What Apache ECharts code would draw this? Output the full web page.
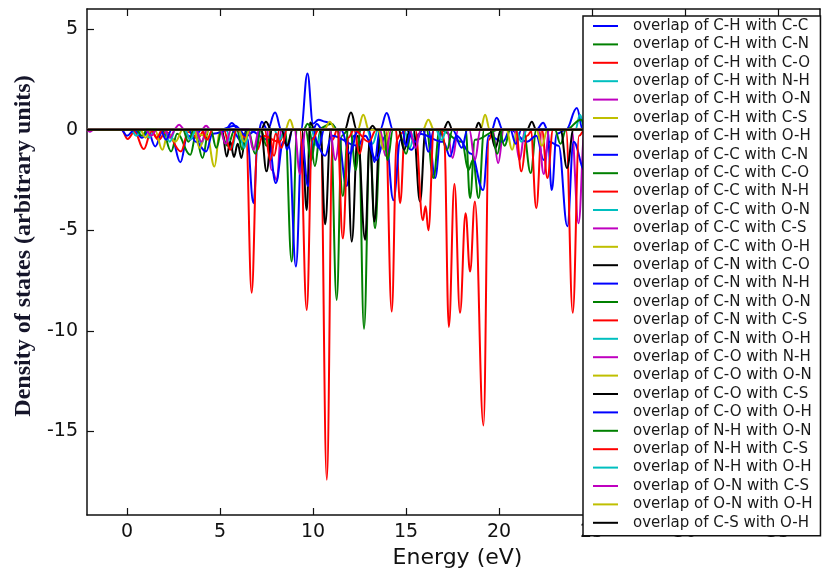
<!DOCTYPE html>
<html>
<head>
<meta charset="utf-8">
<script src="https://cdn.jsdelivr.net/npm/echarts@6/dist/echarts.min.js"></script>
<style>
  html, body { margin: 0; padding: 0; background: #ffffff; }
  #chart { width: 822px; height: 574px; }
</style>
</head>
<body>
<div id="chart"></div>
<script>
// Overlap (COOP-style) density of states, energy in eV vs. arbitrary units.
// Each curve is a list of [energy, value] samples.

const energyTicks = [0, 5, 10, 15, 20, 25, 30, 35];
const dosTicks = [-15, -10, -5, 0, 5];

const chCC = [[-2.15,0],[1.1,0],[1.52,-0.83],[1.9,-0.1],[2.4,-0.4],[2.87,-1.62],[3.25,-0.3],[3.62,-0.4],[4.0,0],[5.3,0],[5.63,0.33],[6.0,0],[6.45,-0.4],[6.8,-3.65],[7.05,-0.2],[7.24,0.4],[7.55,0],[7.96,0.85],[8.3,0],[9.35,0],[9.7,2.8],[10.0,0.3],[10.3,0.5],[10.65,0.4],[11.0,0.3],[11.3,0],[11.8,-2.8],[12.2,-0.3],[12.5,0],[13.6,0],[13.96,0.83],[14.3,0],[16.2,0],[16.56,-2.4],[16.9,0],[19.6,0],[19.87,0.6],[20.2,0],[22.0,0],[22.37,0.35],[22.6,0],[22.83,-3.0],[23.1,-0.2],[23.6,0],[24.18,1.08],[24.5,0],[37.25,0]];
const chCN = [[-2.15,0],[1.9,0],[2.37,-1.08],[2.7,-0.2],[3.4,-1.25],[3.7,-0.3],[4.06,-1.4],[4.4,0],[5.0,0],[5.4,-0.8],[5.8,0],[8.5,0],[8.85,-6.55],[9.15,0],[9.8,0],[10.1,-1.8],[10.4,0],[10.95,0],[11.27,-8.46],[11.55,-0.3],[11.9,0],[12.45,0],[12.74,-9.9],[13.05,-0.5],[13.33,-4.9],[13.65,0],[16.1,0],[16.47,-2.4],[16.8,0],[18.0,-0.6],[18.35,-2.0],[18.6,-1.5],[18.9,-3.4],[19.2,0],[21.3,0],[21.7,-2.15],[22.0,0],[37.25,0]];
const chCO = [[-2.15,0],[-0.3,0],[0.04,-0.46],[0.4,-0.1],[0.9,-0.96],[1.3,-0.1],[1.7,-0.5],[2.1,-0.1],[2.9,-1.08],[3.3,-0.1],[3.8,-0.4],[4.2,0],[7.6,0],[7.9,-1.3],[8.2,0],[10.4,0],[10.74,-17.4],[11.05,-0.5],[11.3,0],[14.45,0],[14.68,-3.65],[14.95,0],[21.7,0],[22.0,-3.9],[22.3,0],[37.25,0]];
const chNH = [[-2.15,0],[0.9,0],[1.2,-0.4],[1.5,0],[3.7,0],[4.0,-0.7],[4.3,0],[5.35,0],[5.63,-1.0],[5.9,0],[9.9,0],[10.2,-0.8],[10.5,0],[14.9,0],[15.2,-0.9],[15.5,0],[24.1,0],[24.35,0.75],[24.6,0],[37.25,0]];
const chON = [[-2.15,0],[-2.0,-0.1],[-1.8,0],[2.5,0],[2.8,0.25],[3.1,0],[3.4,-0.5],[3.7,0],[7.5,0],[7.78,-2.0],[8.05,-2.5],[8.3,0],[17.2,0],[17.5,-1.4],[17.8,0],[19.65,0],[19.95,-1.65],[20.25,0],[23.9,0],[24.27,-4.65],[24.6,0],[37.25,0]];
const chCS = [[-2.15,0],[1.5,0],[1.9,-1.0],[2.2,-0.2],[2.6,-0.6],[3.0,0],[4.3,-0.3],[4.7,-1.83],[5.0,0],[8.5,0],[8.76,0.5],[9.0,0],[12.4,0],[12.7,0.75],[13.0,0],[19.0,0],[19.25,0.75],[19.5,0],[37.25,0]];
const chOH = [[-2.15,0],[5.1,0],[5.36,-1.33],[5.55,-0.6],[5.75,-1.35],[5.95,-0.7],[6.15,-1.4],[6.4,0],[7.2,0],[7.47,0.4],[7.75,0],[9.4,0],[9.66,-4.0],[9.84,0.36],[10.1,0],[10.4,0],[10.65,-4.7],[10.95,0],[11.8,0],[12.08,-5.56],[12.4,-0.3],[12.8,-5.47],[13.05,-0.5],[13.3,-4.56],[13.6,0],[37.25,0]];
const ccCN = [[-2.15,0],[0.4,0],[0.8,-0.4],[1.2,0],[3.3,0],[3.7,-0.6],[4.25,-1.08],[4.6,-0.2],[5.6,0],[6.2,-0.6],[6.5,0],[7.6,-0.5],[8.0,-2.65],[8.4,-0.6],[8.7,-0.8],[9.08,-6.8],[9.4,-0.5],[9.73,-2.8],[10.0,-0.4],[10.65,-1.3],[11.0,-0.3],[12.4,-0.8],[12.8,-0.3],[13.4,-1.5],[13.9,-0.3],[14.32,-3.5],[14.7,-0.5],[15.3,-1.0],[15.7,-0.2],[17.0,-0.6],[17.37,-1.33],[17.7,-0.3],[18.5,-1.2],[19.14,-3.0],[19.45,-0.3],[20.2,-0.6],[20.6,0],[21.5,-0.6],[22.0,-0.3],[22.4,-1.5],[22.7,-0.6],[23.2,-0.8],[23.67,-4.8],[24.0,-0.6],[24.6,-2.0],[25.0,0],[37.25,0]];
const ccCO = [[-2.15,0],[3.0,0],[3.3,-0.6],[3.6,0],[5.9,0],[6.2,-1.0],[6.5,0],[7.2,0],[7.5,-0.8],[7.8,0],[9.6,0],[9.9,-1.5],[10.2,0],[11.0,0.3],[11.3,0],[11.6,-3.3],[11.9,0],[14.6,0],[15.0,-1.2],[15.3,0],[18.2,0],[18.44,-3.4],[18.7,-0.5],[20.0,0],[20.3,-0.8],[20.6,0],[23.0,0],[23.3,-0.7],[23.6,0],[24.4,0.5],[24.7,0],[37.25,0]];
const ccNH = [[-2.15,0],[5.2,0],[5.55,-1.0],[5.9,0],[6.4,-0.4],[6.7,-8.1],[7.0,-1.0],[7.3,-0.3],[8.2,-0.6],[8.5,0],[13.9,0],[14.23,-9.04],[14.5,-0.5],[14.7,-0.2],[15.0,0],[23.6,0],[23.96,-9.1],[24.3,-0.3],[24.6,0],[37.25,0]];
const ccON = [[-2.15,0],[0.2,0],[0.5,-0.3],[0.8,0],[2.0,0],[2.3,-0.6],[2.6,0],[6.0,0],[6.3,-0.9],[6.6,0],[12.9,0],[13.2,-0.7],[13.5,0],[37.25,0]];
const ccCS = [[-2.15,0],[2.0,0],[2.3,-0.4],[2.6,0],[4.0,0],[4.25,0.2],[4.5,0],[9.0,0],[9.3,-2.2],[9.6,0],[10.9,0],[11.2,-1.5],[11.5,0],[18.4,0],[18.7,-1.5],[19.0,0],[20.8,0],[21.1,-1.5],[21.4,0],[37.25,0]];
const ccOH = [[-2.15,0],[3.6,0],[3.9,-0.9],[4.2,-0.3],[4.4,0],[15.9,0],[16.2,0.5],[16.5,0],[20.4,0],[20.7,-1.0],[21.0,0],[37.25,0]];
const cnCO = [[-2.15,0],[7.2,0],[7.5,-2.07],[7.8,0],[11.7,0],[12.04,0.85],[12.35,0],[15.4,0],[15.75,-3.57],[16.05,0],[17.0,0],[17.26,0.4],[17.5,0],[18.7,0],[18.9,0.35],[19.1,0],[21.5,0],[21.76,0.4],[22.0,0],[23.3,0],[23.65,-1.9],[24.0,0],[37.25,0]];
const cnNH = [[-2.15,0],[-0.3,0],[0.0,-0.3],[0.4,0],[1.8,0],[2.1,-0.5],[2.4,0],[5.0,0],[5.8,0.2],[6.4,-0.3],[7.0,0],[8.4,0],[8.6,-1.0],[8.9,0],[10.0,0],[10.3,-0.9],[10.6,0],[13.0,0],[13.3,-1.6],[13.6,0],[15.0,0],[15.5,-0.6],[15.9,0],[16.2,-1.1],[16.5,0],[20.6,0],[20.9,-0.7],[21.2,0],[37.25,0]];
const cnON = [[-2.15,0],[0.5,0],[0.8,-0.3],[1.1,0],[6.5,0],[6.9,-1.2],[7.2,0],[12.0,0],[12.3,-2.0],[12.55,0],[16.8,0],[17.2,-1.0],[17.5,0],[37.25,0]];
const cnCS = [[-2.15,0],[1.3,0],[1.6,-0.4],[1.9,0],[9.3,0],[9.66,-8.96],[9.95,-0.5],[10.3,0],[12.2,0],[12.5,-1.2],[12.8,0],[16.9,0],[17.05,-0.5],[17.3,-9.8],[17.6,-2.7],[17.9,-9.1],[18.2,-4.15],[18.44,-7.05],[18.7,-3.57],[19.16,-14.7],[19.45,-0.5],[19.7,0],[37.25,0]];
const cnOH = [[-2.15,0],[3.1,0],[3.4,-0.5],[3.7,0],[7.9,0],[8.2,-0.5],[8.5,0],[20.9,0],[21.2,-0.6],[21.5,0],[37.25,0]];
const coNH = [[-2.15,0],[3.7,0],[4.0,-0.6],[4.3,0],[6.5,0],[6.8,-1.0],[7.1,0],[13.6,0],[13.9,-1.3],[14.2,0],[22.1,0],[22.4,-2.2],[22.7,0],[37.25,0]];
const coON = [[-2.15,0],[0.7,0],[1.0,-0.4],[1.3,0],[10.6,0],[10.9,0.4],[11.2,0],[13.5,0],[13.8,-1.0],[14.1,0],[37.25,0]];
const coCS = [[-2.15,0],[8.3,0],[8.6,-0.8],[8.9,0],[14.6,0],[14.9,-1.0],[15.2,0],[19.5,0],[19.8,-0.9],[20.1,0],[37.25,0]];
const coOH = [[-2.15,0],[10.0,0],[10.2,0.3],[10.5,0],[11.5,0],[12.0,-1.2],[12.4,0],[14.8,0],[15.0,-0.8],[15.3,0],[17.5,0],[18.0,-0.9],[18.3,0],[37.25,0]];
const nhON = [[-2.15,0],[4.5,0],[4.8,-0.9],[5.1,0],[9.5,0],[9.7,0.3],[10.0,0],[13.8,0],[14.0,-1.5],[14.3,0],[19.6,0],[19.9,-1.2],[20.2,0],[37.25,0]];
const nhCS = [[-2.15,0],[4.0,0],[4.3,-0.5],[4.6,0],[7.4,0],[7.7,-1.5],[8.0,-0.2],[8.3,-0.9],[8.6,0],[11.3,0],[11.6,-5.4],[11.9,-0.4],[12.2,0],[13.0,-0.6],[13.4,0],[15.5,0],[15.9,-4.5],[16.05,-3.8],[16.2,-5.0],[16.5,0],[20.9,0],[21.2,-2.07],[21.5,-0.3],[21.8,0],[22.3,0],[22.6,-2.4],[22.9,0],[37.25,0]];
const nhOH = [[-2.15,0],[16.6,0],[16.9,-0.5],[17.2,0],[37.25,0]];
const onCS = [[-2.15,0],[1.0,0],[1.3,-0.3],[1.6,0],[5.0,0],[5.3,-0.7],[5.6,0],[15.2,0],[15.5,-0.9],[15.8,0],[37.25,0]];
const onOH = [[-2.15,0],[6.0,0],[6.3,-0.6],[6.6,0],[22.0,0],[22.3,-0.8],[22.6,0],[37.25,0]];
const csOH = [[-2.15,0],[13.0,0],[13.2,0.2],[13.4,0],[37.25,0]];

const curves = [chCC, chCN, chCO, chNH, chON, chCS, chOH,
                ccCN, ccCO, ccNH, ccON, ccCS, ccOH,
                cnCO, cnNH, cnON, cnCS, cnOH,
                coNH, coON, coCS, coOH,
                nhON, nhCS, nhOH,
                onCS, onOH,
                csOH];
const curveNames = [
  'overlap of C-H with C-C', 'overlap of C-H with C-N', 'overlap of C-H with C-O',
  'overlap of C-H with N-H', 'overlap of C-H with O-N', 'overlap of C-H with C-S',
  'overlap of C-H with O-H', 'overlap of C-C with C-N', 'overlap of C-C with C-O',
  'overlap of C-C with N-H', 'overlap of C-C with O-N', 'overlap of C-C with C-S',
  'overlap of C-C with O-H', 'overlap of C-N with C-O', 'overlap of C-N with N-H',
  'overlap of C-N with O-N', 'overlap of C-N with C-S', 'overlap of C-N with O-H',
  'overlap of C-O with N-H', 'overlap of C-O with O-N', 'overlap of C-O with C-S',
  'overlap of C-O with O-H', 'overlap of N-H with O-N', 'overlap of N-H with C-S',
  'overlap of N-H with O-H', 'overlap of O-N with C-S', 'overlap of O-N with O-H',
  'overlap of C-S with O-H'
];

// classic seven-colour cycle: b, g, r, c, m, y, k
const cycle = ['#0000ff', '#008000', '#ff0000', '#00bfbf', '#bf00bf', '#bfbf00', '#000000'];

const chart = echarts.init(document.getElementById('chart'), null, { renderer: 'canvas' });

const tickFont = { fontFamily: 'DejaVu Sans', fontSize: 19, color: '#111111' };
const frame = { show: true, onZero: false, lineStyle: { color: '#111111', width: 1.5 } };
const innerTick = (vals) => ({ show: true, inside: true, length: 7, customValues: vals,
                               lineStyle: { color: '#111111', width: 1.2 } });

const xBase = { type: 'value', min: -2.15, max: 37.25, splitLine: { show: false } };
const yBase = { type: 'value', min: -19.15, max: 6.0, splitLine: { show: false } };

chart.setOption({
  animation: false,
  backgroundColor: '#ffffff',
  grid: { left: 87, right: 2, top: 9, bottom: 59, containLabel: false },
  xAxis: [
    Object.assign({}, xBase, {
      position: 'bottom',
      name: 'Energy (eV)', nameLocation: 'middle', nameGap: 31,
      nameTextStyle: { fontFamily: 'DejaVu Sans', fontSize: 22, color: '#111111', padding: [0, 0, 0, 8] },
      axisLine: frame, axisTick: innerTick(energyTicks),
      axisLabel: Object.assign({ customValues: energyTicks, margin: 8 }, tickFont)
    }),
    Object.assign({}, xBase, {
      position: 'top',
      axisLine: frame, axisTick: innerTick(energyTicks), axisLabel: { show: false }
    })
  ],
  yAxis: [
    Object.assign({}, yBase, {
      position: 'left',
      name: 'Density of states (arbitrary units)', nameLocation: 'middle', nameGap: 50,
      nameTextStyle: { fontFamily: 'Liberation Serif', fontWeight: 'bold', fontSize: 24,
                       color: '#15152a', padding: [0, 0, 0, 32] },
      axisLine: frame, axisTick: innerTick(dosTicks),
      axisLabel: Object.assign({ customValues: dosTicks, margin: 9 }, tickFont)
    }),
    Object.assign({}, yBase, {
      position: 'right',
      axisLine: frame, axisTick: innerTick(dosTicks), axisLabel: { show: false }
    })
  ],
  legend: {
    orient: 'vertical', left: 583, top: 16,
    padding: [2, 8, 5, 10],
    backgroundColor: '#ffffff', borderColor: '#111111', borderWidth: 1.5,
    icon: 'rect', itemWidth: 25, itemHeight: 2, itemGap: 2.4,
    textStyle: { fontFamily: 'DejaVu Sans', fontSize: 15, lineHeight: 16,
                 color: '#1a1a1a', padding: [0, 0, 0, 10] },
    data: curveNames
  },
  series: curves.map((pts, i) => ({
    name: curveNames[i],
    type: 'line',
    data: pts,
    smooth: 0.4,
    smoothMonotone: 'x',
    symbol: 'none',
    showSymbol: false,
    clip: true,
    lineStyle: { color: cycle[i % cycle.length], width: 2 },
    itemStyle: { color: cycle[i % cycle.length] }
  }))
});
</script>
</body>
</html>
